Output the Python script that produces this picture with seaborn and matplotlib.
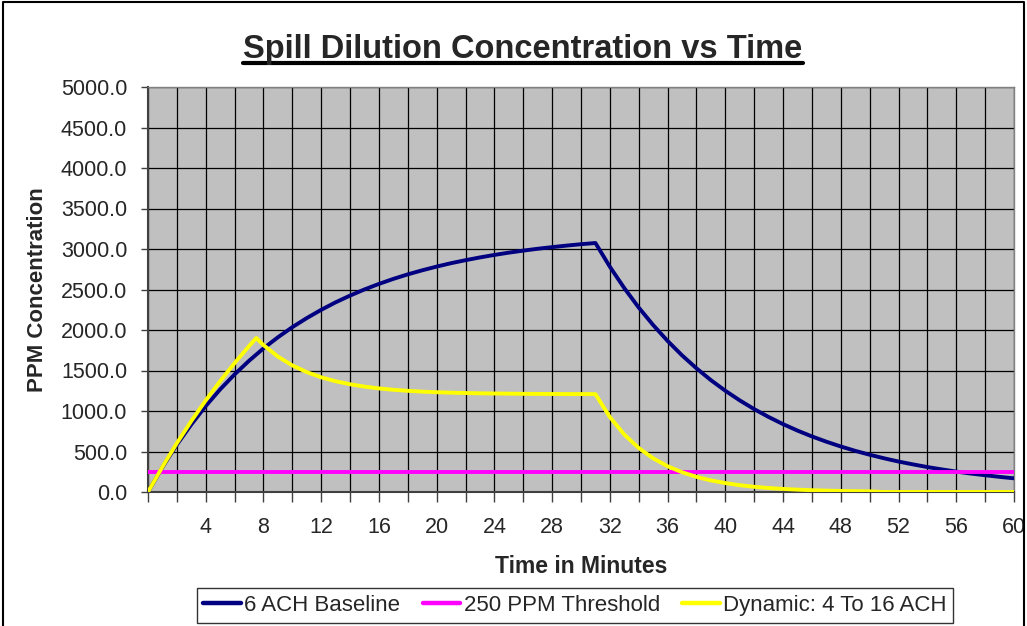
import matplotlib
matplotlib.use("Agg")
import matplotlib.pyplot as plt
import seaborn as sns
import pandas as pd
from matplotlib.ticker import FixedLocator, FuncFormatter
from matplotlib.lines import Line2D

# ---- data (ppm per minute) ----
minutes = list(range(0, 61))
baseline_ppm = [0, 306, 584, 834, 1061, 1267, 1452, 1620, 1773, 1910,
                2035, 2147, 2249, 2342, 2425, 2501, 2569, 2631, 2687, 2737,
                2783, 2825, 2862, 2896, 2927, 2955, 2980, 3003, 3023, 3042,
                3059, 3074, 2781, 2517, 2277, 2061, 1865, 1687, 1527, 1381,
                1250, 1131, 1023, 926, 838, 758, 686, 621, 562, 508,
                460, 416, 376, 341, 308, 279, 252, 228, 207, 187, 169]
threshold_ppm = [250] * len(minutes)

dynamic_minutes = [0, 1, 2, 3, 4, 5, 6, 7, 7.5, 8, 9, 10, 11, 12, 13, 14, 15,
                   16, 17, 18, 19, 20, 21, 22, 23, 24, 25, 26, 27, 28, 29, 30,
                   31, 32, 33, 34, 35, 36, 37, 38, 39, 40, 41, 42, 43, 44, 45,
                   46, 47, 48, 49, 50, 51, 52, 53, 54, 55, 56, 57, 58, 59, 60]
dynamic_ppm = [0, 311, 603, 876, 1131, 1369, 1592, 1801, 1901, 1814, 1672,
               1563, 1480, 1416, 1367, 1330, 1301, 1279, 1262, 1249, 1239,
               1232, 1226, 1222, 1218, 1216, 1214, 1212, 1211, 1210, 1209,
               1209, 1208, 925, 709, 543, 416, 318, 244, 187, 143, 110, 84,
               64, 49, 38, 29, 22, 17, 13, 10, 8, 0, 0, 0, 0, 0, 0, 0, 0, 0, 0]

series_names = ["6 ACH Baseline", "250 PPM Threshold", "Dynamic: 4 To 16 ACH"]
series_colors = ["#000080", "#FF00FF", "#FFFF00"]

df = pd.concat([
    pd.DataFrame({"minute": minutes, "ppm": baseline_ppm, "series": series_names[0]}),
    pd.DataFrame({"minute": minutes, "ppm": threshold_ppm, "series": series_names[1]}),
    pd.DataFrame({"minute": dynamic_minutes, "ppm": dynamic_ppm, "series": series_names[2]}),
], ignore_index=True)

sns.set_style("white")
plt.rcParams["font.family"] = ["Liberation Sans", "DejaVu Sans"]

fig = plt.figure(figsize=(10.27, 6.26), dpi=100)
ax = fig.add_axes([148 / 1027, 1 - 492 / 626, 866 / 1027, 405 / 626])
ax.set_facecolor("#C0C0C0")

sns.lineplot(data=df, x="minute", y="ppm", hue="series", hue_order=series_names,
             palette=dict(zip(series_names, series_colors)), linewidth=2.8,
             estimator=None, sort=False, ax=ax, zorder=3)

ax.set_xlim(0, 60)
ax.set_ylim(0, 5000)
ax.xaxis.set_major_locator(FixedLocator(list(range(0, 61, 2))))
ax.xaxis.set_major_formatter(FuncFormatter(lambda v, p: f"{int(v)}" if v > 0 and int(v) % 4 == 0 else ""))
ax.yaxis.set_major_locator(FixedLocator(list(range(0, 5001, 500))))
ax.yaxis.set_major_formatter(FuncFormatter(lambda v, p: f"{v:.1f}"))
ax.grid(True, color="black", linewidth=0.9, zorder=1)
ax.set_axisbelow(True)

ax.tick_params(axis="x", direction="out", length=7, width=1, color="#404040",
               labelsize=15.5, pad=11, bottom=True)
ax.tick_params(axis="y", direction="out", length=5, width=1, color="#404040",
               labelsize=15.5, pad=10, left=True)
for side in ["left", "bottom"]:
    ax.spines[side].set_color("#404040")
    ax.spines[side].set_linewidth(1.5)
for side in ["top", "right"]:
    ax.spines[side].set_color("#808080")
    ax.spines[side].set_linewidth(1)

ax.set_xlabel("Time in Minutes", fontsize=16.5, fontweight="bold", labelpad=12)
ax.set_ylabel("PPM Concentration", fontsize=16, fontweight="bold", labelpad=9)

sns.move_legend(ax, "center", bbox_to_anchor=(575 / 1027, 1 - 605.5 / 626),
                bbox_transform=fig.transFigure, ncol=3, title=None, frameon=True,
                fancybox=False, edgecolor="black", fontsize=16, handlelength=1.7,
                handletextpad=0.15, columnspacing=1.0, borderpad=0.3,
                borderaxespad=0)
leg = ax.get_legend()
leg.get_frame().set_linewidth(1)
for h in leg.get_lines():
    h.set_linewidth(3.2)

# title with underline
title = fig.text(523 / 1027, 1 - 58 / 626, "Spill Dilution Concentration vs Time",
                 ha="center", va="baseline", fontsize=23.5, fontweight="bold")
fig.canvas.draw()
bb = title.get_window_extent().transformed(fig.transFigure.inverted())
fig.add_artist(Line2D([bb.x0, bb.x1], [1 - 63 / 626] * 2, color="black",
                      linewidth=3, transform=fig.transFigure))

# chart border
fig.add_artist(Line2D([3 / 1027, 3 / 1027, 1024 / 1027, 1024 / 1027],
                      [-0.1, 1 - 2 / 626, 1 - 2 / 626, -0.1],
                      color="black", linewidth=1.5, transform=fig.transFigure))

fig.savefig("out.png", dpi=100)
